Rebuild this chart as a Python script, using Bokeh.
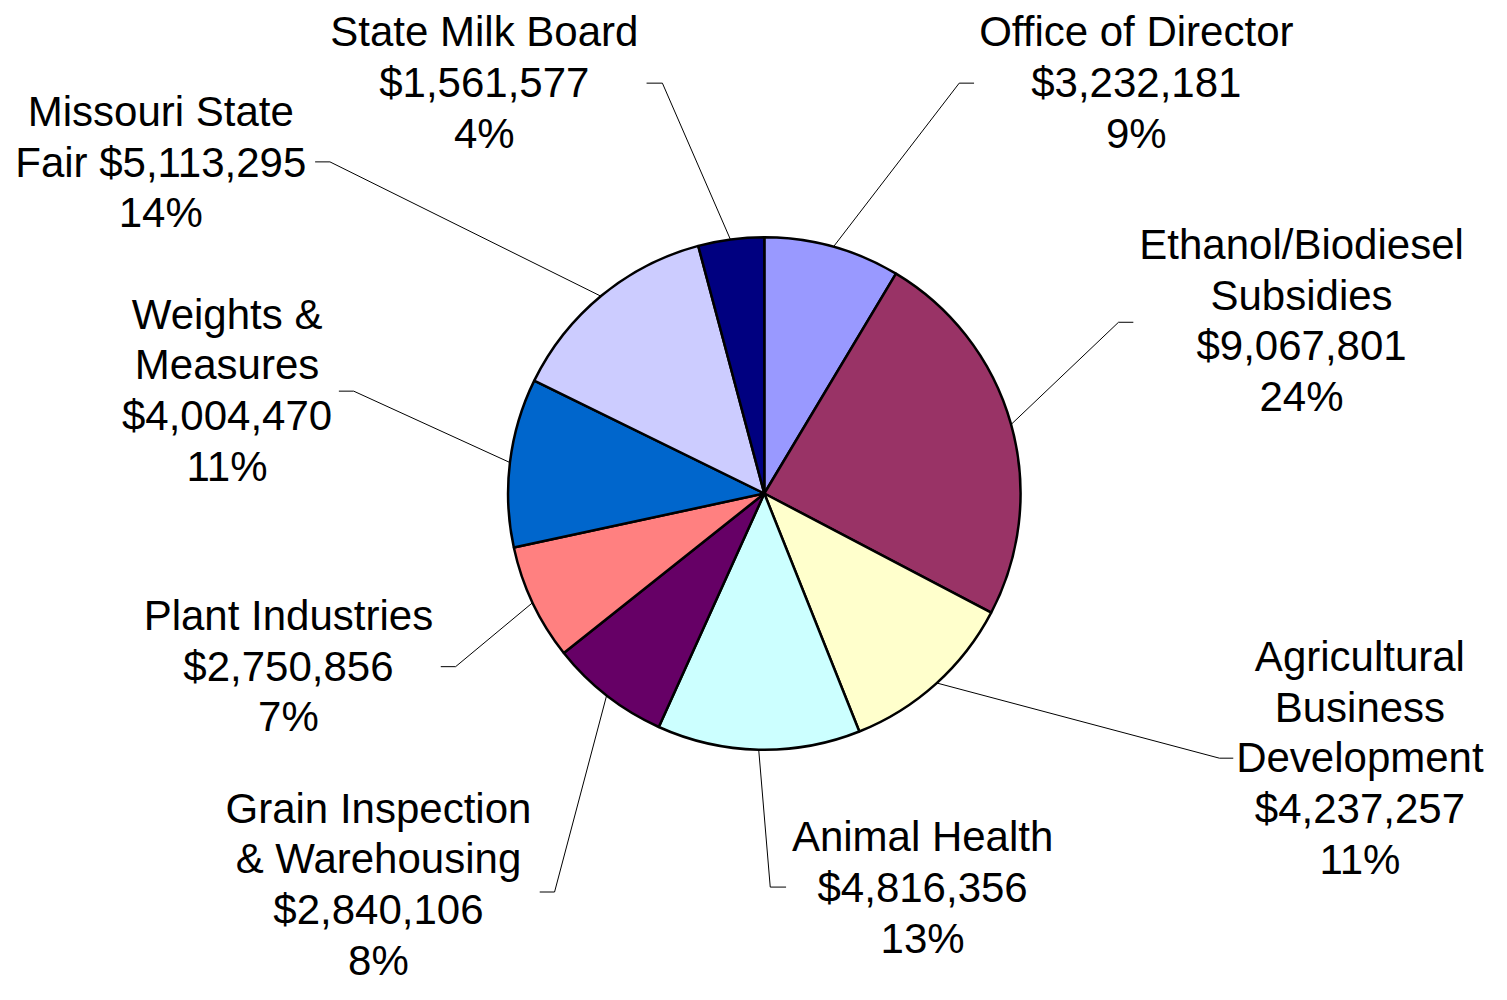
import math
from bokeh.plotting import figure
from bokeh.models import Range1d, ColumnDataSource
from bokeh.core.properties import value
from bokeh.embed import file_html
from bokeh.resources import INLINE

# ---------------- data ----------------
categories = [
    "Office of Director",
    "Ethanol/Biodiesel Subsidies",
    "Agricultural Business Development",
    "Animal Health",
    "Grain Inspection & Warehousing",
    "Plant Industries",
    "Weights & Measures",
    "Missouri State Fair",
    "State Milk Board",
]
amounts = [3232181, 9067801, 4237257, 4816356, 2840106, 2750856, 4004470, 5113295, 1561577]
colors = ["#9999FF", "#993366", "#FFFFCC", "#CCFFFF", "#660066", "#FF8080", "#0066CC", "#CCCCFF", "#000080"]

# label wrapping of each name (text layout)
name_lines = [
    ["Office of Director"],
    ["Ethanol/Biodiesel", "Subsidies"],
    ["Agricultural", "Business", "Development"],
    ["Animal Health"],
    ["Grain Inspection", "& Warehousing"],
    ["Plant Industries"],
    ["Weights &", "Measures"],
    ["Missouri State", "Fair"],
    ["State Milk Board"],
]
value_joins_name = [False, False, False, False, False, False, False, True, False]

# ---------------- layout (image pixel coordinates, y downwards) ----------------
W, H = 1507, 1000
CX, CY, R = 772, 501, 259
label_cx = [1148, 1315, 1374, 932, 382, 291, 229, 162, 489]
label_mid = [32, 248, 667, 850, 821, 625, 319, 113, 32]
LINE_PITCH = 51.4
elbow_x = [969, 1130, 1232, 778, 560, 460, 357, 333, 669]
elbow_y = [84, 327, 770, 901, 906, 677, 397, 164, 84]
end_x = [984, 1145, 1246, 794, 545, 445, 342, 318, 653]


def fy(y):
    return H - y


total = float(sum(amounts))
starts, ends, mids = [], [], []
acc = 0.0
for a in amounts:
    f0 = acc / total
    acc += a
    f1 = acc / total
    starts.append(math.pi / 2 - 2 * math.pi * f0)
    ends.append(math.pi / 2 - 2 * math.pi * f1)
    mids.append(2 * math.pi * (f0 + f1) / 2)

p = figure(width=W - 16, height=H - 16, output_backend="svg", toolbar_location=None,
           x_axis_type=None, y_axis_type=None, min_border=0,
           x_range=Range1d(0, W), y_range=Range1d(0, H))
p.outline_line_color = None
p.grid.visible = False
p.background_fill_color = "white"
p.border_fill_color = "white"

# leader lines
xs, ys = [], []
for i, m in enumerate(mids):
    ex = CX + R * math.sin(m)
    ey = CY - R * math.cos(m)
    xs.append([ex, elbow_x[i], end_x[i]])
    ys.append([fy(ey), fy(elbow_y[i]), fy(elbow_y[i])])
p.multi_line(xs=xs, ys=ys, line_color="black", line_width=1)

# pie
src = ColumnDataSource(dict(start=starts, end=ends, color=colors, cat=categories))
p.wedge(x=CX, y=fy(CY), radius=R, radius_units="data", start_angle="start", end_angle="end",
        direction="clock", fill_color="color", line_color="black", line_width=2.5, source=src)

# labels
tx, ty, tt = [], [], []
for i, cat in enumerate(categories):
    val = "${:,}".format(amounts[i])
    pct = "{}%".format(int(round(amounts[i] / total * 100)))
    lines = list(name_lines[i])
    if value_joins_name[i]:
        lines[-1] = lines[-1] + " " + val
    else:
        lines.append(val)
    lines.append(pct)
    for k, ln in enumerate(lines):
        tx.append(label_cx[i])
        ty.append(fy(label_mid[i] + k * LINE_PITCH))
        tt.append(ln)
p.text(x=tx, y=ty, text=tt, text_align="center", text_baseline="middle",
       text_font=value("Liberation Sans"), text_font_size="42px", text_color="black")

open("out.html", "w").write(file_html(p, INLINE))
